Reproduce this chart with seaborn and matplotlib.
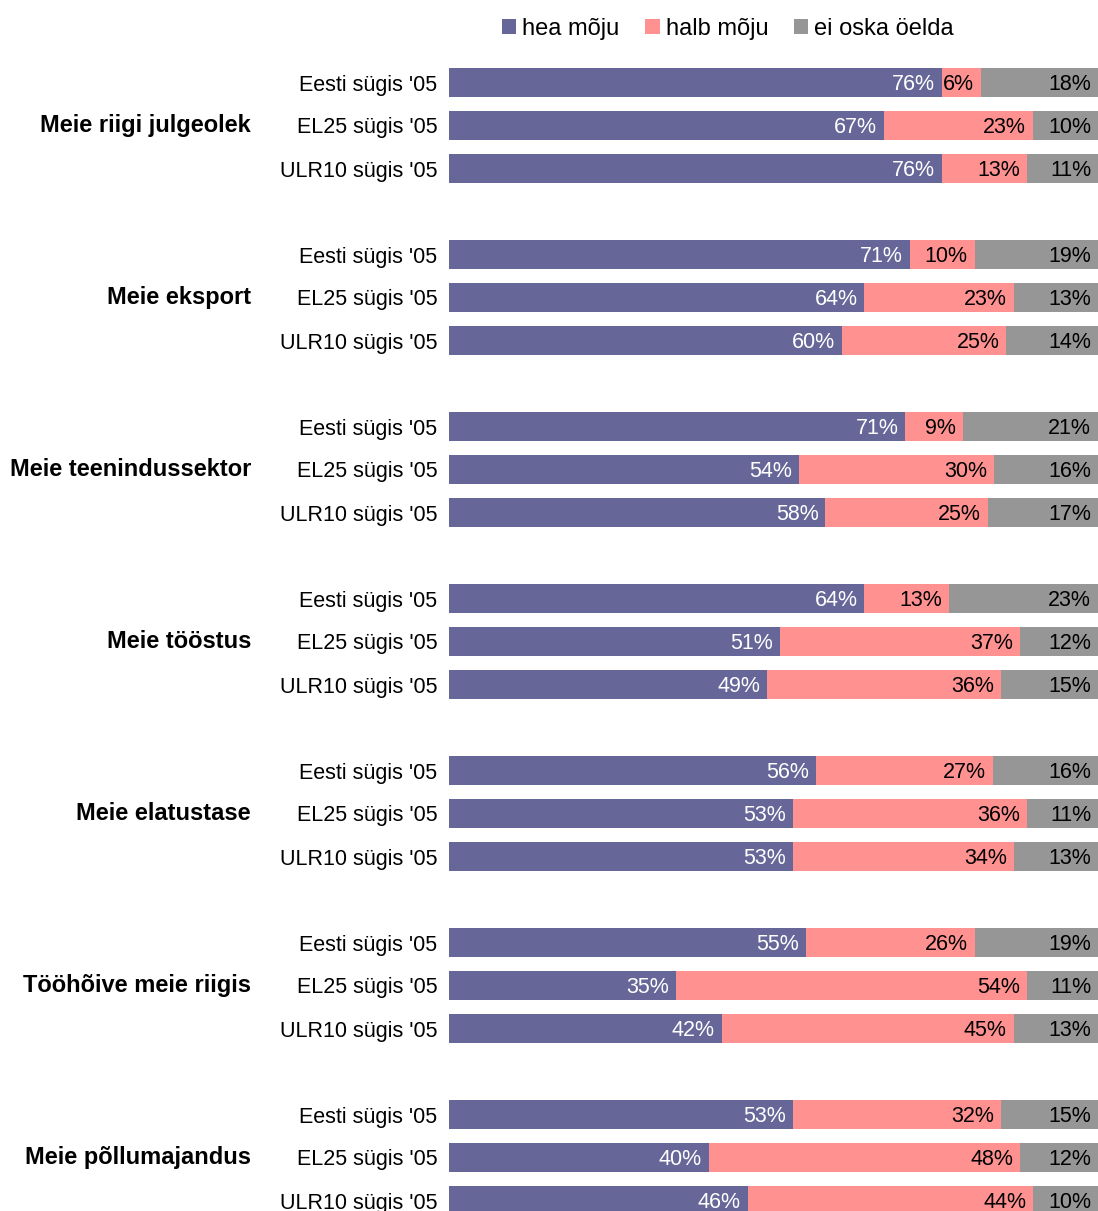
import matplotlib
matplotlib.use("Agg")
import matplotlib.pyplot as plt
import matplotlib.transforms as mtransforms
from matplotlib.patches import Patch
import seaborn as sns
import pandas as pd
import numpy as np

# ---- data ----
groups = ["Meie riigi julgeolek", "Meie eksport", "Meie teenindussektor",
          "Meie tööstus", "Meie elatustase", "Tööhõive meie riigis",
          "Meie põllumajandus"]
rows = ["Eesti sügis '05", "EL25 sügis '05", "ULR10 sügis '05"]
series = ["hea mõju", "halb mõju", "ei oska öelda"]

hea = [76, 67, 76,  71, 64, 60,  71, 54, 58,  64, 51, 49,  56, 53, 53,  55, 35, 42,  53, 40, 46]
halb = [6, 23, 13,  10, 23, 25,  9, 30, 25,  13, 37, 36,  27, 36, 34,  26, 54, 45,  32, 48, 44]
eios = [18, 10, 11,  19, 13, 14,  21, 16, 17,  23, 12, 15,  16, 11, 13,  19, 11, 13,  15, 12, 10]

colors = ["#666699", "#FF9191", "#969696"]
text_colors = ["white", "black", "black"]

# ---- build table ----
recs = []
for g in range(len(groups)):
    for j in range(len(rows)):
        k = g * 3 + j
        tot = hea[k] + halb[k] + eios[k]
        vals = [hea[k], halb[k], eios[k]]
        w = [v / tot * 100 for v in vals]
        recs.append(dict(slot=g * 4 + j, group=groups[g], row=rows[j],
                         v1=vals[0], v2=vals[1], v3=vals[2],
                         c1=w[0], c2=w[0] + w[1], c3=w[0] + w[1] + w[2]))
df = pd.DataFrame(recs)

sns.set_theme(style="white")
plt.rcParams["font.family"] = ["Liberation Sans", "DejaVu Sans"]
plt.rcParams["text.color"] = "black"
plt.rcParams["ytick.labelcolor"] = "black"
plt.rcParams["ytick.color"] = "black"

W, H = 1098, 1211
fig = plt.figure(figsize=(W / 100, H / 100), dpi=100)
ax = fig.add_axes([449 / W, 0, 1 - 449 / W, 1])

for col, c in zip(["c3", "c2", "c1"], colors[::-1]):
    sns.barplot(data=df, x=col, y="slot", orient="y", native_scale=True,
                color=c, width=0.67, errorbar=None, linewidth=0,
                saturation=1, ax=ax)

ax.set_xlim(0, 100)
top = -82.5 / 43
bottom = (H - 82.5) / 43
ax.set_ylim(bottom, top)
for s in ax.spines.values():
    s.set_visible(False)
ax.set_xticks([])
ax.set_xlabel("")
ax.set_ylabel("")
ax.set_yticks(df["slot"].tolist())
ax.set_yticklabels(df["row"].tolist(), fontsize=15.5, color="black")
ax.tick_params(axis="y", length=0, pad=8.5)

# value labels
for _, r in df.iterrows():
    ends = [r.c1, r.c2, r.c3]
    vals = [r.v1, r.v2, r.v3]
    for e, v, tc in zip(ends, vals, text_colors):
        ax.annotate(f"{int(v)}%", xy=(e, r.slot), xytext=(-5, -1.2),
                    textcoords="offset points", ha="right", va="center",
                    color=tc, fontsize=15.5)

# group labels
trans = mtransforms.blended_transform_factory(fig.transFigure, ax.transData)
for g, name in enumerate(groups):
    ax.text(251 / W, g * 4 + 1, name, transform=trans, ha="right", va="center",
            fontsize=17, fontweight="bold", color="black", clip_on=False)

# legend
handles = [Patch(facecolor=c, edgecolor="none", label=l) for c, l in zip(colors, series)]
leg = fig.legend(handles=handles, loc="center", bbox_to_anchor=(728 / W, 1 - 29 / H),
                 ncol=3, frameon=False, fontsize=17, handlelength=0.6, handleheight=0.6,
                 handletextpad=0.25, columnspacing=1.1, borderpad=0, borderaxespad=0)
for t in leg.get_texts():
    t.set_color("black")

fig.savefig("out.png", dpi=100)
